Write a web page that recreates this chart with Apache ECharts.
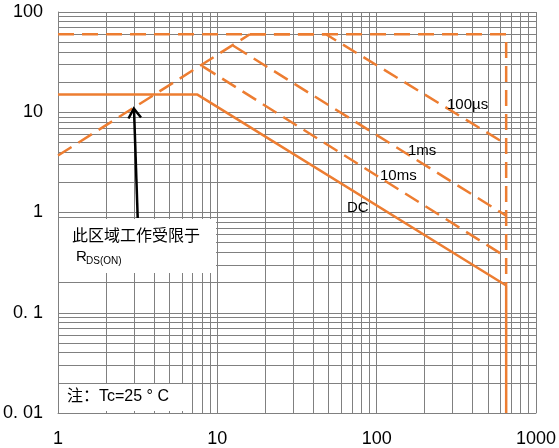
<!DOCTYPE html>
<html>
<head>
<meta charset="utf-8">
<script src="https://cdn.jsdelivr.net/npm/echarts@6/dist/echarts.min.js"></script>
<style>
html,body{margin:0;padding:0;background:#fff;}
#main{width:559px;height:448px;}
</style>
</head>
<body>
<div id="main"></div>
<script>
// ---- data (Vds in V, Id in A) ----
const xTickValues = [1, 10, 100, 1000];
const xTickLabels = ['1', '10', '100', '1000'];
const yTickValues = [0.01, 0.1, 1, 10, 100];
const yTickLabels = ['0. 01', '0. 1', '1', '10', '100'];
const minorSteps = [2, 3, 4, 5, 6, 7, 8, 9];

const rdsLimit   = [[1, 3.7], [16, 60]];
const boundary   = [[1, 60], [650, 60], [650, 0.19]];
const pulse100us = [[16, 60], [48, 60], [650, 4.8]];
const pulse1ms   = [[12.6, 46], [650, 0.93]];
const pulse10ms  = [[8, 29], [650, 0.36]];
const dcLine     = [[1, 15], [7.5, 15], [650, 0.187], [650, 0.01]];

const seriesNames = ['100µs', '1ms', '10ms', 'DC'];
const noteText = '此区域工作受限于';
const tcText = '注：Tc=25 ° C';

// grid line values (minor decades)
const xMinor = [], yMinor = [];
[1, 10, 100].forEach(d => minorSteps.forEach(s => xMinor.push(s * d)));
[0.01, 0.1, 1, 10].forEach(d => minorSteps.forEach(s => yMinor.push(+(s * d).toPrecision(3))));

const ORANGE = '#ED7D31';
const GRID = '#808080';
const dash = [16, 8];

function pickLabel(v, vals, labels) {
  let best = 0, bd = Infinity;
  vals.forEach((t, i) => { const d = Math.abs(Math.log10(v) - Math.log10(t)); if (d < bd) { bd = d; best = i; } });
  return bd < 0.01 ? labels[best] : '';
}

function lineSeries(data, solid) {
  return {
    type: 'line', data: data, showSymbol: false, symbol: 'none', silent: true,
    lineStyle: { color: ORANGE, width: 2.5, type: solid ? 'solid' : dash },
    z: 10, animation: false
  };
}

const chart = echarts.init(document.getElementById('main'));
const option = {
  animation: false,
  backgroundColor: '#fff',
  grid: { left: 57, right: 22, top: 12, bottom: 34, containLabel: false },
  xAxis: {
    type: 'log', logBase: 10, min: 1, max: 1000,
    axisLine: { show: true, lineStyle: { color: GRID, width: 1 } },
    axisTick: { show: false },
    splitLine: { show: true, lineStyle: { color: GRID, width: 1 } },
    axisLabel: {
      color: '#000', fontSize: 18, fontFamily: 'Liberation Sans, Arial, sans-serif', margin: 17,
      formatter: v => pickLabel(v, xTickValues, xTickLabels)
    }
  },
  yAxis: {
    type: 'log', logBase: 10, min: 0.01, max: 100,
    axisLine: { show: true, lineStyle: { color: GRID, width: 1 } },
    axisTick: { show: false },
    splitLine: { show: true, lineStyle: { color: GRID, width: 1 } },
    axisLabel: {
      color: '#000', fontSize: 18, fontFamily: 'Liberation Sans, Arial, sans-serif', margin: 15,
      formatter: v => pickLabel(v, yTickValues, yTickLabels)
    }
  },
  series: [
    {
      type: 'line', data: [], silent: true, z: 1,
      markLine: {
        z: 1, silent: true, symbol: ['none', 'none'], animation: false,
        label: { show: false },
        lineStyle: { color: GRID, width: 1, type: 'solid' },
        emphasis: { disabled: true },
        data: xMinor.map(v => ({ xAxis: v })).concat(yMinor.map(v => ({ yAxis: v })))
      }
    },
    lineSeries(rdsLimit, false),
    lineSeries(boundary, false),
    lineSeries(pulse100us, false),
    lineSeries(pulse1ms, false),
    lineSeries(pulse10ms, false),
    lineSeries(dcLine, true)
  ],
  graphic: [
    { type: 'rect', z: 100, shape: { x: 59, y: 219, width: 157, height: 54 }, style: { fill: '#fff' } },
    { type: 'rect', z: 100, shape: { x: 59, y: 384, width: 126, height: 27 }, style: { fill: '#fff' } },
    { type: 'text', z: 101, x: 72, y: 235, style: { text: noteText, fill: '#000', font: '16px "Noto Sans CJK SC", sans-serif', textVerticalAlign: 'middle' } },
    { type: 'text', z: 101, x: 76, y: 257, style: { text: 'R', fill: '#000', font: '15px "Liberation Sans", Arial, sans-serif', textVerticalAlign: 'middle' } },
    { type: 'text', z: 101, x: 86, y: 261, style: { text: 'DS(ON)', fill: '#000', font: '10px "Liberation Sans", Arial, sans-serif', textVerticalAlign: 'middle' } },
    { type: 'text', z: 101, x: 67, y: 397, style: { text: tcText, fill: '#000', font: '16px "Liberation Sans", "Noto Sans CJK SC", sans-serif', textVerticalAlign: 'middle' } },
    { type: 'text', z: 101, x: 447, y: 105, style: { text: seriesNames[0], fill: '#000', font: '15px "Liberation Sans", Arial, sans-serif', textVerticalAlign: 'middle' } },
    { type: 'text', z: 101, x: 408, y: 151, style: { text: seriesNames[1], fill: '#000', font: '15px "Liberation Sans", Arial, sans-serif', textVerticalAlign: 'middle' } },
    { type: 'text', z: 101, x: 380, y: 176, style: { text: seriesNames[2], fill: '#000', font: '15px "Liberation Sans", Arial, sans-serif', textVerticalAlign: 'middle' } },
    { type: 'text', z: 101, x: 347, y: 208, style: { text: seriesNames[3], fill: '#000', font: '15px "Liberation Sans", Arial, sans-serif', textVerticalAlign: 'middle' } },
    { type: 'line', z: 102, shape: { x1: 137.7, y1: 218, x2: 134, y2: 109 }, style: { stroke: '#000', lineWidth: 2.5 } },
    { type: 'polyline', z: 102, shape: { points: [[128.5, 118.5], [133.8, 108.5], [141, 117.5]] }, style: { stroke: '#000', lineWidth: 2.5, fill: null } }
  ]
};
chart.setOption(option);
</script>
</body>
</html>
